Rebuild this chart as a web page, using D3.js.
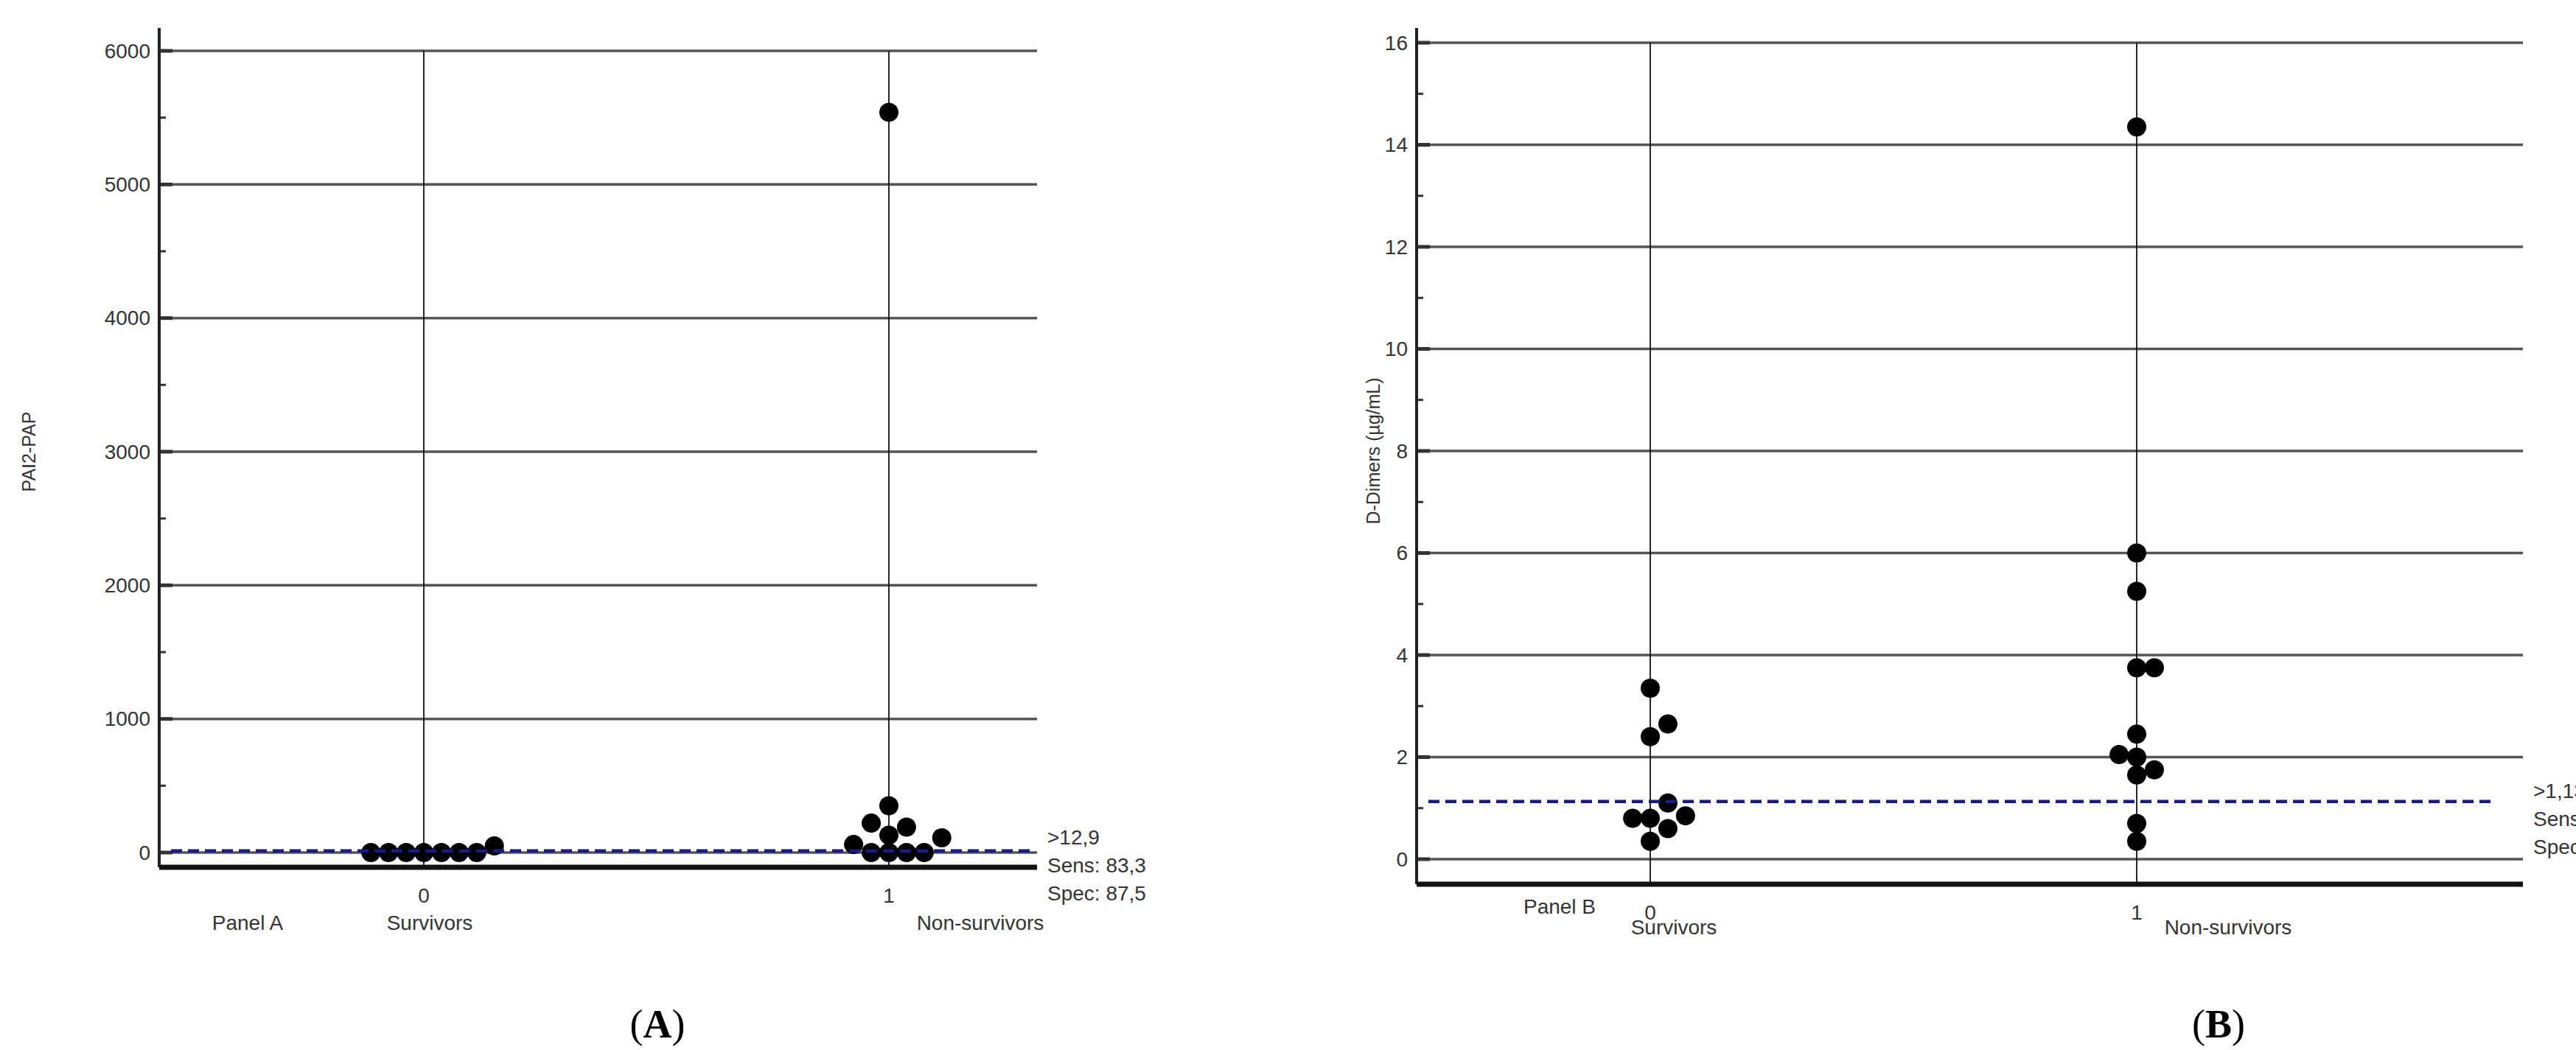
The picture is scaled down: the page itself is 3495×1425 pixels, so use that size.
<!DOCTYPE html>
<html><head><meta charset="utf-8">
<script src="https://cdn.jsdelivr.net/npm/d3@7"></script>
<style>body{margin:0;background:#fff}svg{display:block}</style>
</head><body><svg id="c"></svg>
<script>
const groups = ["0", "1"];
const groupNames = ["Survivors", "Non-survivors"];
const paiSurvivors = [0, 0, 0, 0, 0, 0, 0, 50];
const paiNonSurvivors = [5540, 350, 220, 190, 130, 110, 60, 0, 0, 0, 0];
const ddSurvivors = [3.35, 2.65, 2.4, 1.1, 0.85, 0.8, 0.8, 0.6, 0.35];
const ddNonSurvivors = [14.35, 6.0, 5.25, 3.75, 3.75, 2.45, 2.05, 2.0, 1.75, 1.65, 0.7, 0.35];
const paiTicks = [0, 1000, 2000, 3000, 4000, 5000, 6000];
const ddTicks = [0, 2, 4, 6, 8, 10, 12, 14, 16];

const svg = d3.select("#c").attr("width", 3495).attr("height", 1425);
const font = "Liberation Sans, Arial";

function panel(o) {
  const g = svg.append("g");
  const y = d3.scaleLinear().domain(o.domain).range([o.y0, o.y1]);
  const x = d3.scalePoint().domain(groups).range([o.cx0, o.cx1]);
  const axBottom = o.axisBottom;
  // grid
  g.selectAll(".grid").data(o.ticks).join("line")
    .attr("x1", o.left).attr("x2", o.right)
    .attr("y1", d => y(d)).attr("y2", d => y(d))
    .attr("stroke", "#555").attr("stroke-width", 3.5);
  // minor ticks
  const minor = o.ticks.slice(1).map((t, i) => (t + o.ticks[i]) / 2);
  g.selectAll(".mt").data(minor).join("line")
    .attr("x1", o.left).attr("x2", o.left + 9)
    .attr("y1", d => y(d)).attr("y2", d => y(d))
    .attr("stroke", "#333").attr("stroke-width", 3);
  g.selectAll(".tk").data(o.ticks).join("line")
    .attr("x1", o.left).attr("x2", o.left + 18)
    .attr("y1", d => y(d)).attr("y2", d => y(d))
    .attr("stroke", "#333").attr("stroke-width", 5);
  g.selectAll(".tl").data(o.ticks).join("text")
    .attr("x", o.left - 12).attr("y", d => y(d)).attr("dy", "0.35em")
    .attr("text-anchor", "end").attr("font-family", font)
    .attr("font-size", 28).attr("fill", "#333").text(d => d);
  // category lines
  g.selectAll(".cl").data(groups).join("line")
    .attr("x1", d => x(d)).attr("x2", d => x(d))
    .attr("y1", o.y1).attr("y2", axBottom)
    .attr("stroke", "#111").attr("stroke-width", 1.8);
  // axes
  g.append("line").attr("x1", o.left).attr("x2", o.left).attr("y1", o.top).attr("y2", axBottom)
    .attr("stroke", "#222").attr("stroke-width", 4);
  g.append("line").attr("x1", o.left).attr("x2", o.right).attr("y1", axBottom).attr("y2", axBottom)
    .attr("stroke", "#111").attr("stroke-width", 7);
  // x labels
  g.selectAll(".xl").data(groups).join("text")
    .attr("x", d => x(d)).attr("y", axBottom + 48).attr("text-anchor", "middle")
    .attr("font-family", font).attr("font-size", 28).attr("fill", "#333").text(d => d);
  g.selectAll(".xn").data(groupNames).join("text")
    .attr("x", (d, i) => x(groups[i]) + o.nameDx[i]).attr("y", o.nameY).attr("text-anchor", "middle")
    .attr("font-family", font).attr("font-size", 28).attr("fill", "#333").text(d => d);
  g.append("text").attr("x", o.panelX).attr("y", o.panelY).attr("text-anchor", "middle")
    .attr("font-family", font).attr("font-size", 28).attr("fill", "#333").text(o.panelLabel);
  // y title
  g.append("text").attr("transform", `translate(${o.titleX},${(o.y0 + o.y1) / 2}) rotate(-90)`)
    .attr("text-anchor", "middle").attr("font-family", font)
    .attr("font-size", 25).attr("fill", "#333").text(o.title);
  // beeswarm dots
  const r = 13;
  [o.s0, o.s1].forEach((vals, gi) => {
    const placed = [];
    const cx = x(groups[gi]);
    vals.slice().sort((a, b) => a - b).forEach(v => {
      const py = y(v);
      for (let k = 0; k < 40; k++) {
        const off = k === 0 ? 0 : (k % 2 ? 1 : -1) * Math.ceil(k / 2) * 2 * r * 0.92;
        const px = cx + off;
        if (!placed.some(p => Math.hypot(p[0] - px, p[1] - py) < 2 * r * 0.85)) { placed.push([px, py]); break; }
      }
    });
    g.selectAll(".d" + gi).data(placed).join("circle")
      .attr("cx", d => d[0]).attr("cy", d => d[1]).attr("r", r).attr("fill", "#000");
  });
  // cutoff
  g.append("line").attr("x1", o.left + 16).attr("x2", o.cutEnd)
    .attr("y1", y(o.cut)).attr("y2", y(o.cut))
    .attr("stroke", "#1a1a8c").attr("stroke-width", 4.5).attr("stroke-dasharray", "15,8");
  o.notes.forEach((t, i) => g.append("text").attr("x", o.right + 14).attr("y", o.noteY + i * 38)
    .attr("font-family", font).attr("font-size", 28).attr("fill", "#333").text(t));
  // caption
  g.append("text").attr("x", o.capX).attr("y", 1408).attr("text-anchor", "middle")
    .attr("font-family", "Liberation Serif, Times New Roman").attr("font-size", 54)
    .html(`(<tspan font-weight="bold">${o.cap}</tspan>)`);
}

panel({domain: [0, 6000], y0: 1157, y1: 69, top: 38, axisBottom: 1177, left: 216, right: 1407,
  cx0: 575, cx1: 1206, ticks: paiTicks, s0: paiSurvivors, s1: paiNonSurvivors, cut: 12.9, cutEnd: 1400,
  nameY: 1262, nameDx: [8, 124], panelX: 336, panelY: 1262, panelLabel: "Panel A",
  titleX: 48, title: "PAI2-PAP", notes: [">12,9", "Sens: 83,3", "Spec: 87,5"], noteY: 1146, capX: 892, cap: "A"});

panel({domain: [0, 16], y0: 1166, y1: 58, top: 38, axisBottom: 1200, left: 1922, right: 3423,
  cx0: 2239, cx1: 2899, ticks: ddTicks, s0: ddSurvivors, s1: ddNonSurvivors, cut: 1.13, cutEnd: 3380,
  nameY: 1268, nameDx: [32, 124], panelX: 2116, panelY: 1240, panelLabel: "Panel B",
  titleX: 1872, title: "D-Dimers (\u00b5g/mL)", notes: [">1,13", "Sens: 83,3", "Spec: 62,5"], noteY: 1083, capX: 3010, cap: "B"});
</script></body></html>
